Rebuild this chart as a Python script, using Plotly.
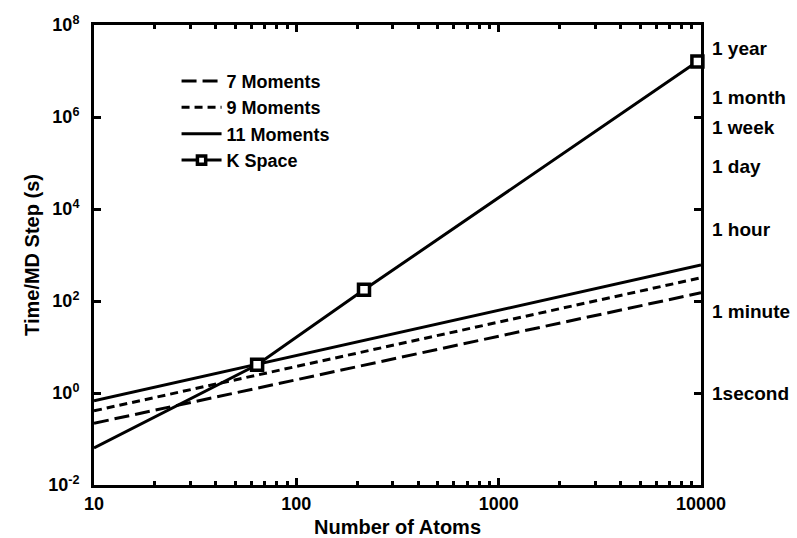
import plotly.graph_objects as go

# Number of atoms and time per MD step (seconds)
atoms_moments = [10, 10000]
t_7_moments = [0.22, 151]
t_9_moments = [0.41, 320]
t_11_moments = [0.68, 605]

atoms_kspace = [10, 64, 216, 9600]
t_kspace = [0.064, 4.1, 175, 1.6e7]

# Left axis ticks
y_tickvals = [1e-2, 1e0, 1e2, 1e4, 1e6, 1e8]
y_ticktext = ["10<sup>-2</sup>", "10<sup>0</sup>", "10<sup>2</sup>",
              "10<sup>4</sup>", "10<sup>6</sup>", "10<sup>8</sup>"]
x_tickvals = [10, 100, 1000, 10000]
x_ticktext = ["10", "100", "1000", "10000"]

# Right axis: wall-clock equivalents in seconds
unit_seconds = [1, 60, 3600, 86400, 604800, 2.63e6, 3.156e7]
unit_labels = ["1second", "1 minute", "1 hour", "1 day", "1 week", "1 month", "1 year"]

FONT = "Liberation Sans, Arial, Helvetica, sans-serif"
LW = 3

fig = go.Figure()
fig.add_trace(go.Scatter(x=atoms_moments, y=t_7_moments, mode="lines",
                         name="<b>7 Moments</b>",
                         line=dict(color="black", width=LW, dash="15px,6px")))
fig.add_trace(go.Scatter(x=atoms_moments, y=t_9_moments, mode="lines",
                         name="<b>9 Moments</b>",
                         line=dict(color="black", width=LW, dash="8px,5px")))
fig.add_trace(go.Scatter(x=atoms_moments, y=t_11_moments, mode="lines",
                         name="<b>11 Moments</b>",
                         line=dict(color="black", width=LW)))
fig.add_trace(go.Scatter(x=atoms_kspace, y=t_kspace, mode="lines+markers",
                         name="<b>K Space</b>",
                         line=dict(color="black", width=LW),
                         marker=dict(symbol="square", color="white", opacity=1,
                                     size=[0, 11, 11, 11],
                                     line=dict(width=3.5, color="#000000")),
                         cliponaxis=False))
# carrier for the right-hand time axis
fig.add_trace(go.Scatter(x=[10] * len(unit_seconds), y=unit_seconds,
                         mode="markers", marker=dict(opacity=0),
                         yaxis="y2", showlegend=False, hoverinfo="skip"))

minor_x = [m * 10 ** d for d in (1, 2, 3) for m in range(2, 10)]

fig.update_layout(
    width=797, height=538,
    margin=dict(l=94, r=96, t=25, b=53),
    paper_bgcolor="white", plot_bgcolor="white",
    font=dict(family=FONT, size=18, color="black"),
    showlegend=True,
    legend=dict(x=0.136, y=0.918, xanchor="left", yanchor="top",
                bgcolor="rgba(0,0,0,0)", font=dict(size=18),
                itemwidth=40, tracegroupgap=0),
    xaxis=dict(type="log", range=[1, 4], automargin=False,
               tickvals=x_tickvals,
               ticktext=["<b>%s</b>" % t for t in x_ticktext],
               ticks="inside", ticklen=7, tickwidth=2.5, tickcolor="black",
               ticklabelstandoff=0,
               minor=dict(tickvals=minor_x, ticks="inside", ticklen=4,
                          tickwidth=2.5, tickcolor="black"),
               showline=True, linewidth=3, linecolor="black", mirror="ticks",
               showgrid=False, zeroline=False,
               title=dict(text="<b>Number of Atoms</b>", font=dict(size=20),
                          standoff=9)),
    yaxis=dict(type="log", range=[-2, 8], automargin=False,
               tickvals=y_tickvals,
               ticktext=["<b>%s</b>" % t for t in y_ticktext],
               ticks="inside", ticklen=7, tickwidth=2.5, tickcolor="black",
               ticklabelstandoff=8,
               showline=True, linewidth=3, linecolor="black", mirror="ticks",
               showgrid=False, zeroline=False,
               title=dict(text="<b>Time/MD Step (s)</b>", font=dict(size=20),
                          standoff=4)),
    yaxis2=dict(type="log", range=[-2, 8], overlaying="y", side="right",
                automargin=False,
                tickvals=unit_seconds,
                ticktext=["<b>%s</b>" % t for t in unit_labels],
                ticks="", showline=False, showgrid=False, zeroline=False,
                tickfont=dict(size=19),
                ticklabelstandoff=10),
)

fig.write_html("out.html")
